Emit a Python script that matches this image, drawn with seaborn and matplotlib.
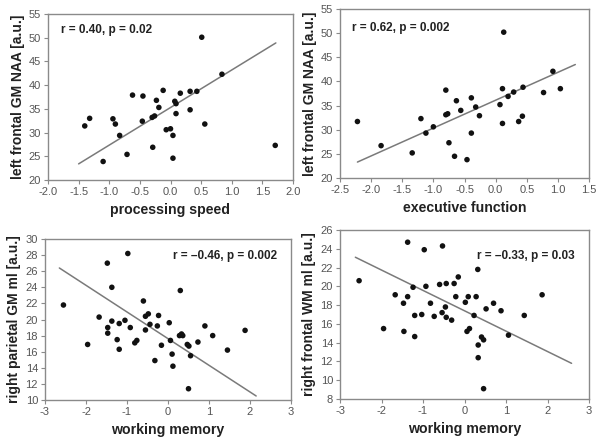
import matplotlib
matplotlib.use("Agg")
import matplotlib.pyplot as plt
import matplotlib.ticker as mticker
import numpy as np
import pandas as pd
import seaborn as sns

# ---- data ----
# top left: processing speed vs left frontal GM NAA
speed = [-1.40, -1.32, -1.10, -0.94, -0.90, -0.83, -0.71, -0.62, -0.46, -0.45,
         -0.29, -0.30, -0.26, -0.23, -0.19, -0.12, -0.07, 0.00, 0.04, 0.04,
         0.07, 0.09, 0.09, 0.16, 0.32, 0.32, 0.43, 0.51, 0.56, 0.84, 1.71]
naa_speed = [31.4, 33.0, 23.9, 32.9, 31.8, 29.4, 25.4, 37.9, 32.4, 37.7,
             26.9, 33.2, 33.5, 36.8, 35.3, 38.9, 30.6, 30.8, 29.4, 24.6,
             36.6, 36.1, 34.0, 38.3, 38.7, 34.8, 38.7, 50.1, 31.8, 42.3, 27.3]
fit_speed_x = [-1.50, 1.72]
fit_speed_y = [23.4, 48.9]

# top right: executive function vs left frontal GM NAA
execf = [-2.22, -1.84, -1.34, -1.20, -1.12, -1.00, -0.80, -0.80, -0.77, -0.75,
         -0.66, -0.63, -0.56, -0.46, -0.39, -0.39, -0.32, -0.26, 0.07, 0.11,
         0.11, 0.13, 0.20, 0.29, 0.37, 0.43, 0.44, 0.77, 0.92, 1.04]
naa_exec = [31.7, 26.7, 25.2, 32.3, 29.3, 30.6, 38.2, 33.1, 33.3, 27.3,
            24.5, 36.0, 34.0, 23.8, 36.6, 29.3, 34.7, 32.9, 35.2, 31.3,
            38.5, 50.2, 36.9, 37.8, 31.7, 32.8, 38.8, 37.7, 42.1, 38.5]
fit_exec_x = [-2.22, 1.28]
fit_exec_y = [23.3, 43.5]

# bottom left: working memory vs right parietal GM ml
wm_gm = [-2.55, -1.96, -1.68, -1.48, -1.47, -1.47, -1.37, -1.37, -1.24, -1.19,
         -1.19, -1.05, -0.98, -0.92, -0.81, -0.76, -0.60, -0.55, -0.48, -0.55,
         -0.44, -0.32, -0.26, -0.23, -0.16, 0.03, 0.06, 0.10, 0.12, 0.28,
         0.33, 0.36, 0.30, 0.47, 0.51, 0.55, 0.50, 0.73, 0.90, 1.09, 1.45, 1.88]
parietal_gm = [21.8, 16.9, 20.3, 27.0, 19.0, 18.3, 24.0, 19.8, 17.5, 16.3,
               19.5, 19.9, 28.2, 19.0, 17.1, 17.4, 22.3, 20.4, 20.7, 18.7,
               19.4, 14.9, 19.2, 20.5, 16.8, 19.6, 17.4, 15.7, 14.2, 18.0,
               18.2, 18.0, 23.6, 16.9, 16.7, 15.5, 11.4, 17.2, 19.2, 18.0, 16.2, 18.65]
fit_gm_x = [-2.65, 2.15]
fit_gm_y = [26.4, 10.5]

# bottom right: working memory vs right frontal WM ml
wm_wm = [-2.54, -1.95, -1.67, -1.47, -1.46, -1.37, -1.37, -1.24, -1.20, -1.20,
         -1.03, -0.97, -0.93, -0.82, -0.73, -0.60, -0.53, -0.54, -0.46, -0.44,
         -0.44, -0.31, -0.25, -0.21, -0.15, 0.02, 0.06, 0.09, 0.12, 0.23,
         0.28, 0.32, 0.33, 0.33, 0.41, 0.46, 0.46, 0.52, 0.70, 0.88, 1.06, 1.44, 1.87]
frontal_wm = [20.6, 15.5, 19.1, 18.2, 15.2, 24.7, 18.9, 19.9, 16.9, 14.65,
              17.0, 23.9, 20.0, 18.2, 16.8, 20.2, 24.3, 17.2, 17.8, 20.3,
              16.7, 16.4, 20.3, 18.9, 21.0, 18.3, 15.2, 18.9, 15.5, 16.9,
              18.9, 21.8, 13.75, 12.4, 14.6, 14.3, 9.1, 17.6, 18.2, 17.4, 14.8, 16.9, 19.1]
fit_wm_x = [-2.63, 2.58]
fit_wm_y = [23.1, 11.8]

sns.set_style("ticks")
plt.rcParams['font.family'] = ['Liberation Sans', 'DejaVu Sans']

fig = plt.figure(figsize=(6.01, 4.40), dpi=100)

panels = [
    # x, y, fit x, fit y, xlabel, ylabel, text, text pos, xlim, ylim, xstep, ystep, xfmt, rect
    (speed, naa_speed, fit_speed_x, fit_speed_y, 'processing speed',
     'left frontal GM NAA [a.u.]', 'r = 0.40, p = 0.02', (61, 30),
     (-2.0, 2.0), (20, 55), 0.5, 5, '%.1f', [48, 14, 293, 180]),
    (execf, naa_exec, fit_exec_x, fit_exec_y, 'executive function',
     'left frontal GM NAA [a.u.]', 'r = 0.62, p = 0.002', (352, 28),
     (-2.5, 1.5), (20, 55), 0.5, 5, '%.1f', [340, 9, 589, 178]),
    (wm_gm, parietal_gm, fit_gm_x, fit_gm_y, 'working memory',
     'right parietal GM ml [a.u.]', 'r = \u20130.46, p = 0.002', (173, 256),
     (-3, 3), (10, 30), 1, 2, '%d', [45, 239, 291, 400]),
    (wm_wm, frontal_wm, fit_wm_x, fit_wm_y, 'working memory',
     'right frontal WM ml [a.u.]', 'r = \u20130.33, p = 0.03', (477, 256),
     (-3, 3), (8, 26), 1, 2, '%d', [340, 230, 589, 399]),
]

W, H = 601, 440
for (x, y, fx, fy, xlab, ylab, txt, tpos, xlim, ylim, xstep, ystep, xfmt, rect) in panels:
    l, t, r, b = rect
    ax = fig.add_axes([l / W, 1 - b / H, (r - l) / W, (b - t) / H])
    df = pd.DataFrame({'x': x, 'y': y})
    fit = pd.DataFrame({'x': fx, 'y': fy})
    sns.lineplot(data=fit, x='x', y='y', ax=ax, color='#7a7a7a', lw=1.1)
    sns.scatterplot(data=df, x='x', y='y', ax=ax, color='#111111', s=16,
                    edgecolor='none', zorder=3)
    ax.set_xlim(*xlim)
    ax.set_ylim(*ylim)
    ax.xaxis.set_major_locator(mticker.MultipleLocator(xstep))
    ax.yaxis.set_major_locator(mticker.MultipleLocator(ystep))
    ax.xaxis.set_major_formatter(mticker.FormatStrFormatter(xfmt))
    ax.set_xlabel(xlab, fontsize=10.2, fontweight='bold', color='#222222', labelpad=4)
    ax.set_ylabel(ylab, fontsize=10, fontweight='bold', color='#222222', labelpad=3)
    for s in ax.spines.values():
        s.set_color('#8a8a8a')
        s.set_linewidth(1.0)
    ax.tick_params(direction='out', length=3, width=0.8, color='#8a8a8a',
                   labelsize=8, labelcolor='#555555', pad=2)
    ax.text(tpos[0] / W, 1 - tpos[1] / H, txt, transform=fig.transFigure,
            fontsize=8.5, fontweight='bold', color='#222222', va='center', ha='left')

fig.savefig('out.png', dpi=100)
